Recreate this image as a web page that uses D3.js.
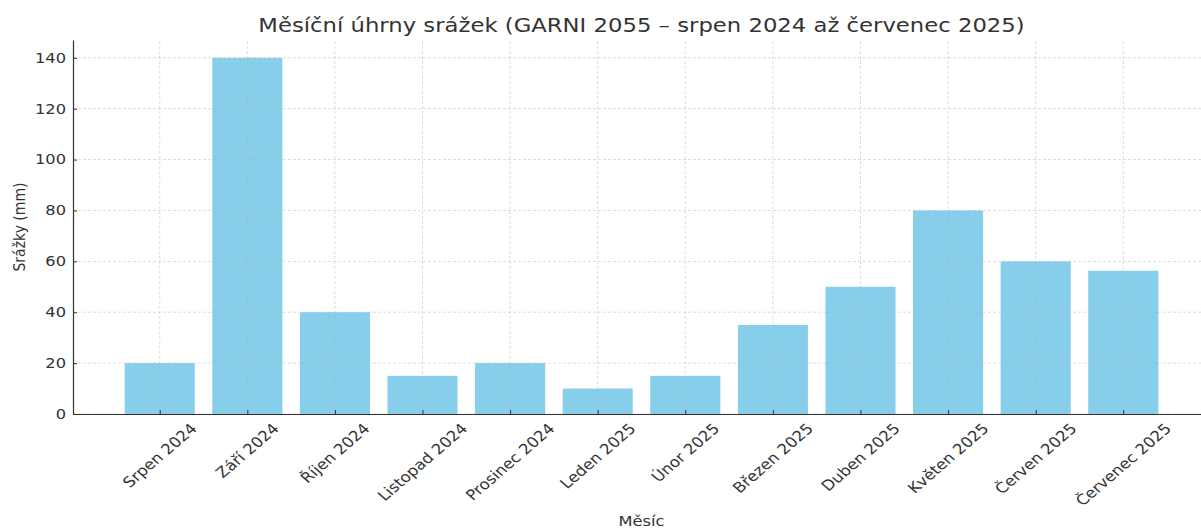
<!DOCTYPE html>
<html>
<head>
<meta charset="utf-8">
<script src="https://cdn.jsdelivr.net/npm/d3@7"></script>
<style>
  body { margin: 0; background: #fff; }
  svg { display: block; font-family: "DejaVu Sans", sans-serif; }
</style>
</head>
<body>
<div id="chart"></div>
<script>
const months = ["Srpen 2024", "Září 2024", "Říjen 2024", "Listopad 2024", "Prosinec 2024", "Leden 2025",
    "Únor 2025", "Březen 2025", "Duben 2025", "Květen 2025", "Červen 2025", "Červenec 2025"];
const rainfall = [20, 140, 40, 15, 20, 10, 15, 35, 50, 80, 60, 56.3];
const yTicks = [0, 20, 40, 60, 80, 100, 120, 140];

const width = 1201, height = 530;
const margin = { left: 73, right: -9, top: 40, bottom: 116 };
const textColor = "#333";
// the reference picture is stretched sideways, so the text is too
const sx = 1.16;

const svg = d3.select("#chart").append("svg")
    .attr("width", width)
    .attr("height", height);

// matplotlib-like limits: bars of width 0.8 plus 5% margins
const n = months.length;
const pad = 0.4 + (n - 1 + 0.8) * 0.05;
const x = d3.scaleLinear()
    .domain([-pad, n - 1 + pad])
    .range([margin.left, width - margin.right]);
const y = d3.scaleLinear()
    .domain([0, d3.max(rainfall) * 1.05])
    .range([height - margin.bottom, margin.top]);

const plot = svg.append("g");

// bars
plot.selectAll("rect.bar")
    .data(rainfall)
    .enter()
    .append("rect")
    .attr("class", "bar")
    .attr("x", (d, i) => x(i - 0.4))
    .attr("width", x(0.8) - x(0))
    .attr("y", d => y(d))
    .attr("height", d => y(0) - y(d))
    .attr("fill", "#87ceeb");

// grid on top of bars
const grid = plot.append("g")
    .attr("stroke", "#b0b0b0")
    .attr("stroke-opacity", 0.55)
    .attr("stroke-width", 0.8)
    .attr("stroke-dasharray", "3,2");

grid.selectAll("line.h")
    .data(yTicks)
    .enter()
    .append("line")
    .attr("x1", x.range()[0])
    .attr("x2", x.range()[1])
    .attr("y1", d => y(d))
    .attr("y2", d => y(d));

grid.selectAll("line.v")
    .data(months)
    .enter()
    .append("line")
    .attr("x1", (d, i) => x(i))
    .attr("x2", (d, i) => x(i))
    .attr("y1", y.range()[0])
    .attr("y2", y.range()[1]);

// y axis
const yAxis = svg.append("g")
    .attr("transform", `translate(${margin.left},0)`)
    .call(d3.axisLeft(y).tickValues(yTicks).tickSizeInner(-4).tickSizeOuter(0).tickFormat(""));
yAxis.select(".domain").attr("stroke", textColor).attr("stroke-width", 1.2);
yAxis.selectAll(".tick line").attr("stroke", textColor).attr("stroke-width", 1);

svg.append("g").selectAll("text")
    .data(yTicks)
    .enter()
    .append("text")
    .attr("transform", d => `translate(${margin.left - 7},${y(d)}) scale(${sx},1)`)
    .attr("text-anchor", "end")
    .attr("dy", "0.35em")
    .attr("fill", textColor)
    .style("font-size", "14px")
    .text(d => d);

// x axis
const xAxis = svg.append("g")
    .attr("transform", `translate(0,${y(0)})`)
    .call(d3.axisBottom(x).tickValues(d3.range(n)).tickFormat("").tickSizeInner(-4).tickSizeOuter(0));
xAxis.select(".domain").attr("stroke", textColor).attr("stroke-width", 1.2);
xAxis.selectAll(".tick line").attr("stroke", textColor).attr("stroke-width", 1);

// rotated month labels, centred on the tick like matplotlib's ha="center"
const labelTop = y(0) + 6;
const fontSize = 14.4;
svg.append("g").selectAll("text")
    .data(months)
    .enter()
    .append("text")
    .attr("text-anchor", "middle")
    .attr("dy", "0.35em")
    .attr("fill", textColor)
    .style("font-size", fontSize + "px")
    .text(d => d)
    .each(function(d, i) {
        const w = this.getComputedTextLength();
        const h = fontSize * 1.17;
        const cy = labelTop + (w + h) * Math.SQRT1_2 / 2;
        d3.select(this)
            .attr("transform", `translate(${x(i)},${cy}) scale(${sx},1) rotate(-45)`);
    });

// title and axis labels
const plotCenter = (x.range()[0] + x.range()[1]) / 2;
svg.append("text")
    .attr("transform", `translate(${plotCenter},32) scale(${sx},1)`)
    .attr("text-anchor", "middle")
    .attr("fill", textColor)
    .style("font-size", "19.6px")
    .text("Měsíční úhrny srážek (GARNI 2055 – srpen 2024 až červenec 2025)");

svg.append("text")
    .attr("transform", `translate(${plotCenter},526) scale(${sx},1)`)
    .attr("text-anchor", "middle")
    .attr("fill", textColor)
    .style("font-size", "14px")
    .text("Měsíc");

svg.append("text")
    .attr("transform", `translate(25,${(y.range()[0] + y.range()[1]) / 2}) scale(${sx},1) rotate(-90)`)
    .attr("text-anchor", "middle")
    .attr("fill", textColor)
    .style("font-size", "14px")
    .text("Srážky (mm)");
</script>
</body>
</html>
